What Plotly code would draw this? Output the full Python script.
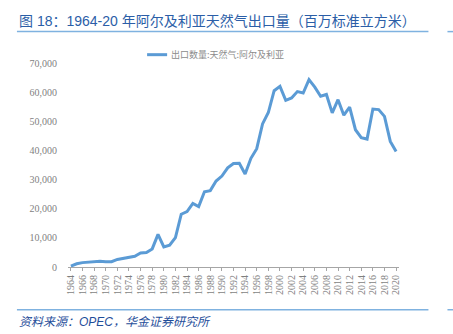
import plotly.graph_objects as go

years = list(range(1964, 2021))
exports = [300, 1100, 1500, 1700, 2000, 2000, 1800, 1800, 2600, 2900,
           3200, 3700, 4800, 5000, 6200, 11200, 6900, 7500, 10100, 18100,
           19000, 21800, 20700, 25800, 26200, 29500, 31200, 34000, 35500, 35600,
           31900, 37300, 40600, 49100, 53000, 60500, 62000, 57200, 58000, 60200,
           59700, 64300, 61700, 58600, 59200, 52900, 57400, 52100, 54900, 47100,
           44400, 43900, 54200, 54000, 51700, 43100, 39600]
series_name = "出口数量:天然气:阿尔及利亚"
tick_years = list(range(1964, 2021, 2))
y_ticks = [0, 10000, 20000, 30000, 40000, 50000, 60000, 70000]
title_text = "图 18：1964-20 年阿尔及利亚天然气出口量（百万标准立方米）"
source_text = "资料来源：OPEC，华金证券研究所"

W, H = 453, 334
L, R, T, B = 68, 398.6, 63.3, 266.7


def px(x):
    return (x - L) / (R - L)


def py(y):
    return (B - y) / (B - T)


fig = go.Figure()
fig.add_trace(go.Scatter(
    x=years, y=exports, mode="lines", name=series_name,
    line=dict(color="#5b9bd5", width=3), showlegend=False,
))

shapes = []
for yy in (32, 309.3):
    shapes.append(dict(type="line", xref="paper", yref="paper",
                       x0=px(17), x1=px(428), y0=py(yy), y1=py(yy),
                       line=dict(color="#7fb2e0", width=1.5)))
    shapes.append(dict(type="line", xref="paper", yref="paper",
                       x0=px(447), x1=px(453), y0=py(yy), y1=py(yy),
                       line=dict(color="#7fb2e0", width=1.5)))
# legend sample
shapes.append(dict(type="line", xref="paper", yref="paper",
                   x0=px(147), x1=px(167), y0=py(55), y1=py(55),
                   line=dict(color="#5b9bd5", width=3)))

annotations = [
    dict(text=title_text, xref="paper", yref="paper", x=px(17), y=py(21),
         xanchor="left", yanchor="middle", showarrow=False,
         font=dict(family="Liberation Sans, Noto Sans CJK SC", size=14, color="#2b5ea7")),
    dict(text=source_text, xref="paper", yref="paper", x=px(17), y=py(321.5),
         xanchor="left", yanchor="middle", showarrow=False,
         font=dict(family="Liberation Sans, Noto Sans CJK SC", size=12, color="#1f4e9a",
                   style="italic")),
    dict(text=series_name, xref="paper", yref="paper", x=px(169), y=py(55),
         xanchor="left", yanchor="middle", showarrow=False,
         font=dict(family="Noto Sans CJK SC", size=9, color="#8c8c8c")),
]

fig.update_layout(
    width=W, height=H,
    margin=dict(l=L, r=W - R, t=T, b=H - B, pad=0),
    paper_bgcolor="white", plot_bgcolor="white",
    shapes=shapes, annotations=annotations,
    showlegend=False,
)
fig.update_xaxes(
    range=[1963.5, 2020.5], tickmode="array", tickvals=tick_years,
    ticktext=[str(y) for y in tick_years], tickangle=-90,
    showgrid=False, zeroline=False, showline=True, linecolor="#a6a6a6", linewidth=1,
    ticks="outside", ticklen=3, tickcolor="#a6a6a6",
    tickfont=dict(family="Liberation Serif", size=10, color="#7f7f7f"),
)
fig.update_yaxes(
    range=[0, 70000], tickmode="array", tickvals=y_ticks,
    ticktext=[f"{v:,}" for v in y_ticks],
    showgrid=False, zeroline=False, showline=False, ticks="",
    ticklabelstandoff=10,
    tickfont=dict(family="Liberation Serif", size=10, color="#7f7f7f"),
)

fig.write_html("out.html")
